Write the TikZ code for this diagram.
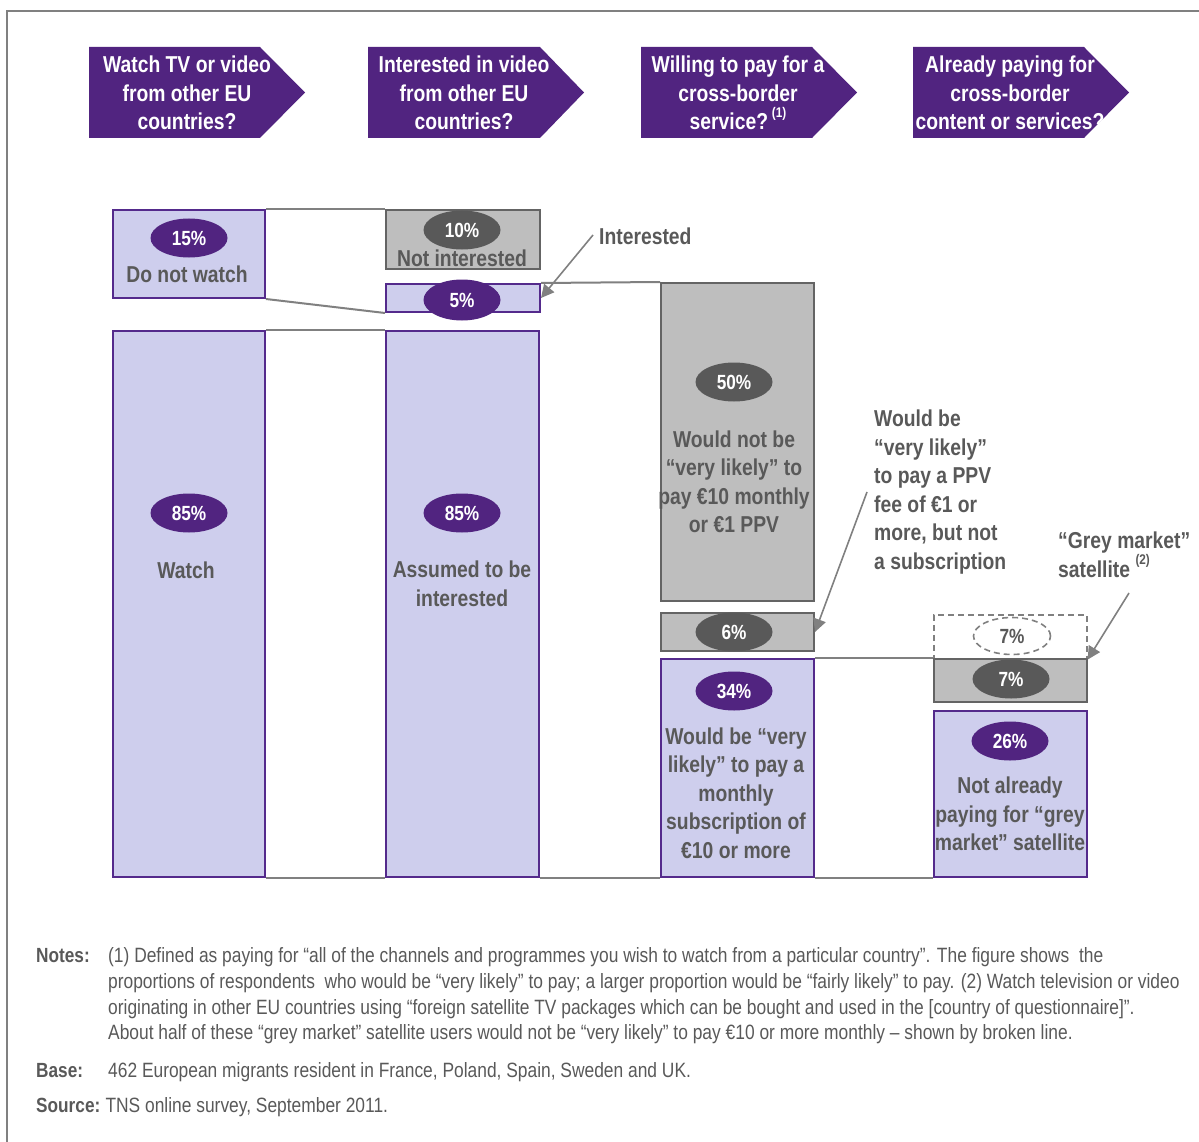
\documentclass[tikz,border=0pt]{standalone}
\usepackage{fontspec}
\setmainfont{Liberation Sans}[FakeStretch=0.84]
\usetikzlibrary{arrows.meta,shapes.geometric}
\definecolor{arrowpurple}{RGB}{81,36,128}
\definecolor{lav}{RGB}{206,206,237}
\definecolor{lavborder}{RGB}{84,42,140}
\definecolor{boxgrey}{RGB}{190,190,190}
\definecolor{greyborder}{RGB}{100,100,100}
\definecolor{darkell}{RGB}{89,89,89}
\definecolor{txtgrey}{RGB}{89,89,89}
\definecolor{linegrey}{RGB}{128,128,128}
\tikzset{
  lavbox/.style={draw=lavborder, fill=lav, line width=2pt, inner sep=0pt, anchor=north west},
  greybox/.style={draw=greyborder, fill=boxgrey, line width=2pt, inner sep=0pt, anchor=north west},
  dashbox/.style={draw=linegrey, dash pattern=on 6pt off 4pt, line width=1.6pt, inner sep=0pt, anchor=north west},
  pctp/.style={ellipse, fill=arrowpurple, text=white, font=\fontsize{20.5}{22}\selectfont\bfseries, minimum width=77pt, minimum height=39pt, inner sep=0pt},
  pctg/.style={pctp, fill=darkell},
  pctd/.style={pctp, fill=white, draw=linegrey, dash pattern=on 6pt off 4pt, line width=1.6pt, text=txtgrey},
  lbl/.style={text=txtgrey, font=\fontsize{23}{28.5}\selectfont\bfseries, align=center, inner sep=0pt},
  lbll/.style={lbl, align=left, anchor=west},
  qtxt/.style={text=white, font=\fontsize{23}{28.5}\selectfont\bfseries, align=center, inner sep=0pt},
  qarrow/.style={fill=arrowpurple},
  conn/.style={draw=linegrey, line width=2pt},
  callout/.style={draw=linegrey, line width=1.6pt, -{Triangle[length=13pt,width=13pt]}, fill=none},
  notebold/.style={text=txtgrey, font=\fontsize{20.5}{22}\selectfont\bfseries, anchor=base west, inner sep=0pt},
  notetxt/.style={text=txtgrey, font=\fontsize{20.7}{22}\selectfont, anchor=base west, inner sep=0pt},
}
\newcommand{\supnote}[1]{\raisebox{0.55em}{\fontsize{14}{14}\selectfont #1}}
\begin{document}
\begin{tikzpicture}[x=1pt,y=-1pt]
\useasboundingbox (0,0) rectangle (1199,1142);
% frame
\draw[draw=linegrey, line width=2pt] (7,1142) -- (7,11) -- (1199,11);

% question arrows
\fill[qarrow] (89,47) -- (260,47) -- (305,92.5) -- (260,138) -- (89,138) -- cycle;
\fill[qarrow] (368,47) -- (540,47) -- (584,92.5) -- (540,138) -- (368,138) -- cycle;
\fill[qarrow] (641,47) -- (812,47) -- (857,92.5) -- (812,138) -- (641,138) -- cycle;
\fill[qarrow] (913,47) -- (1084,47) -- (1129,92.5) -- (1084,138) -- (913,138) -- cycle;
\node[qtxt] (q1) at (187,93) {Watch TV or video\\from other EU\\countries?};
\node[qtxt] (q2) at (464,93) {Interested in video\\from other EU\\countries?};
\node[qtxt] (q3) at (738,93) {Willing to pay for a\\cross-border\\service?\,\supnote{(1)}};
\node[qtxt] (q4) at (1010,93) {Already paying for\\cross-border\\content or services?};

% boxes
\node[lavbox, minimum width=152pt, minimum height=88pt] (dnw) at (112,209) {};
\node[lavbox, minimum width=152pt, minimum height=546pt] (watch) at (112,330) {};
\node[greybox, minimum width=154pt, minimum height=59pt] (ni) at (385,209) {};
\node[lavbox, minimum width=154pt, minimum height=28pt] (int5) at (385,283) {};
\node[lavbox, minimum width=153pt, minimum height=546pt] (assumed) at (385,330) {};
\node[greybox, minimum width=153pt, minimum height=318pt] (wnl) at (660,282) {};
\node[greybox, minimum width=153pt, minimum height=38pt] (b6) at (660,612) {};
\node[lavbox, minimum width=153pt, minimum height=218pt] (wl) at (660,658) {};
\node[dashbox, minimum width=153pt, minimum height=44pt] (d7) at (933,614) {};
\node[greybox, minimum width=153pt, minimum height=43pt] (g7) at (933,658) {};
\node[lavbox, minimum width=153pt, minimum height=166pt] (nap) at (933,710) {};

% connectors between columns
\draw[conn] (dnw.north east) -- (ni.north west);
\draw[conn] (dnw.south east) -- (int5.south west);
\draw[conn] (watch.north east) -- (assumed.north west);
\draw[conn] (int5.north east) -- (wnl.north west);
\draw[conn] (watch.south east) -- (assumed.south west);
\draw[conn] (assumed.south east) -- (wl.south west);
\draw[conn] (wl.south east) -- (nap.south west);
\draw[conn] (wl.north east) -- (g7.north west);

% ellipses
\node[pctp] (e15) at (189,238) {15\%};
\node[pctg] (e10) at (462,230) {10\%};
\node[pctp, minimum height=41pt] (e5) at (462,300) {5\%};
\node[pctp] (e85a) at (189,513) {85\%};
\node[pctp] (e85b) at (462,513) {85\%};
\node[pctg] (e50) at (734,382) {50\%};
\node[pctg] (e6) at (734,632) {6\%};
\node[pctp] (e34) at (734,691) {34\%};
\node[pctd, minimum height=37pt] (ed7) at (1012,636) {7\%};
\node[pctg] (e7) at (1011,679) {7\%};
\node[pctp] (e26) at (1010,741) {26\%};

% box labels
\node[lbl] (tdnw) at (187,274) {Do not watch};
\node[lbl] (tni) at (462,258) {Not interested};
\node[lbl] (twatch) at (186,570) {Watch};
\node[lbl] (tass) at (462,584) {Assumed to be\\interested};
\node[lbl] (twnl) at (734,482) {Would not be\\“very likely” to\\pay €10 monthly\\or €1 PPV};
\node[lbl] (twl) at (736,793) {Would be “very\\likely” to pay a\\monthly\\subscription of\\€10 or more};
\node[lbl] (tnap) at (1010,814) {Not already\\paying for “grey\\market” satellite};

% side labels and callouts
\node[lbll] (lint) at (599,236) {Interested};
\coordinate (cint) at (593,235);
\draw[callout] (cint) -- (int5.east);
\node[lbll] (lppv) at (874,492) {Would be\\“very likely”\\to pay a PPV\\fee of €1 or\\more, but not\\a subscription};
\coordinate (cppv) at (867,492);
\draw[callout] (cppv) -- (b6.east);
\node[lbll] (lgrey) at (1058,555) {“Grey market”\\satellite \supnote{(2)}};
\coordinate (cgrey) at (1129,593);
\draw[callout] (cgrey) -- (d7.south east);

% notes
\node[notebold] (nl) at (36,962) {Notes:};
\node[notetxt] (n1) at (108,962) {(1) Defined as paying for “all of the channels and programmes you wish to watch from a particular country”. The figure shows\ \ the};
\node[notetxt] (n2) at (108,988) {proportions of respondents\ \ who would be “very likely” to pay; a larger proportion would be “fairly likely” to pay. (2) Watch television or video};
\node[notetxt] (n3) at (108,1014) {originating in other EU countries using “foreign satellite TV packages which can be bought and used in the [country of questionnaire]”.};
\node[notetxt] (n4) at (108,1039) {About half of these “grey market” satellite users would not be “very likely” to pay €10 or more monthly – shown by broken line.};
\node[notebold] (bl) at (36,1077) {Base:};
\node[notetxt] (b1) at (108,1077) {462 European migrants resident in France, Poland, Spain, Sweden and UK.};
\node[notebold] (sl) at (36,1112) {Source:};
\node[notetxt] (s1) at (sl.base east) {\ TNS online survey, September 2011.};
\end{tikzpicture}
\end{document}
